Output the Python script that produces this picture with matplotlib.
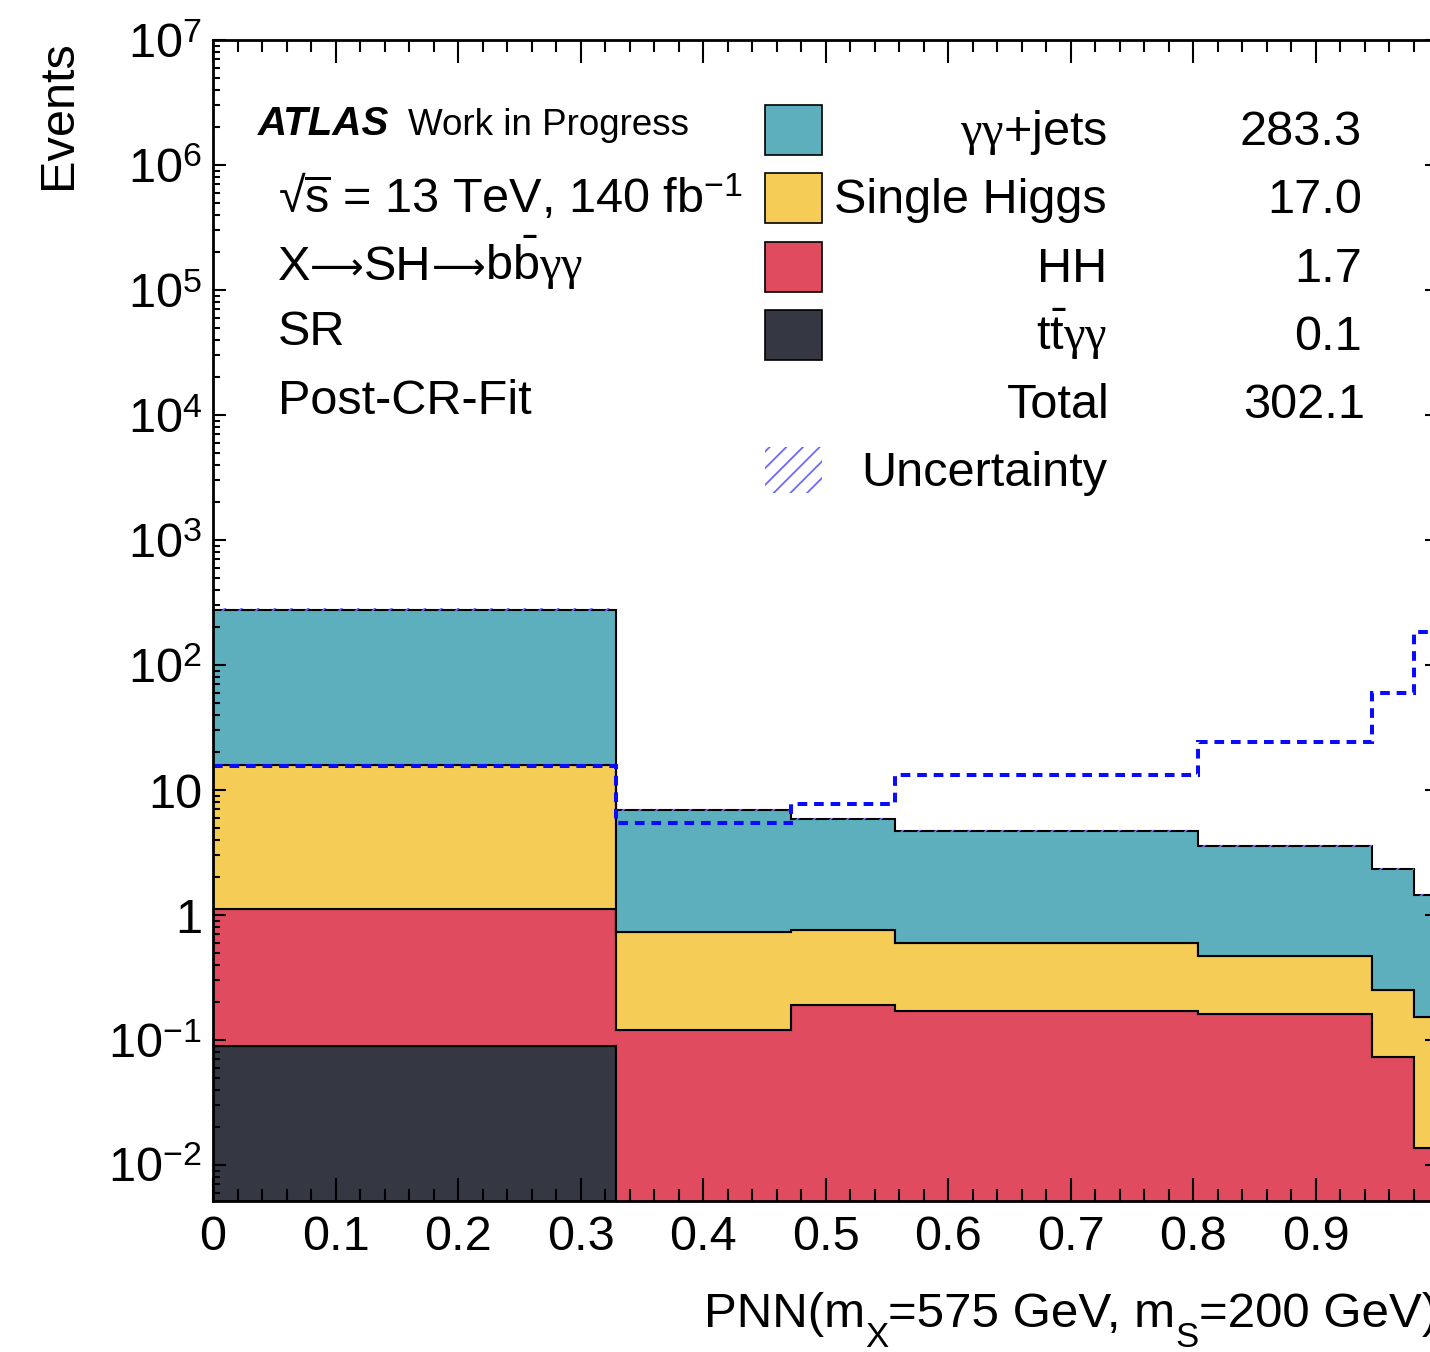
import numpy as np
import matplotlib
matplotlib.use("Agg")
import matplotlib.pyplot as plt
from matplotlib.patches import Rectangle
from matplotlib.ticker import MultipleLocator, LogLocator, FuncFormatter, NullFormatter

plt.rcParams["font.family"] = ["Liberation Sans", "DejaVu Sans"]
plt.rcParams["mathtext.fontset"] = "custom"
plt.rcParams["mathtext.rm"] = "Liberation Sans"
plt.rcParams["mathtext.it"] = "Liberation Serif"
plt.rcParams["mathtext.bf"] = "Liberation Sans:bold"
plt.rcParams["hatch.linewidth"] = 1.3

# binning of the PNN score and per-bin yields
bin_edges = [0.0, 0.329, 0.472, 0.557, 0.804, 0.946, 0.980, 1.0]
yy_jets = [261.4, 6.19, 5.10, 4.10, 3.09, 2.08, 1.29]
single_higgs = [14.73, 0.61, 0.565, 0.426, 0.309, 0.178, 0.139]
hh = [1.03, 0.12, 0.19, 0.17, 0.16, 0.073, 0.0137]
ttyy = [0.09, 0.0, 0.0, 0.0, 0.0, 0.0, 0.0]
signal = [15.6, 5.45, 7.73, 13.2, 24.2, 59.7, 184.0]
rel_unc = 0.025

proc_labels = [r"$\gamma\gamma$+jets", "Single Higgs", "HH", r"t$\bar{\mathrm{t}}\gamma\gamma$"]
proc_yields = [283.3, 17.0, 1.7, 0.1]
total_yield = 302.1
proc_colors = ["#5dafbe", "#f5cd56", "#e04b5f", "#353743"]

x_ticks = [0.0, 0.1, 0.2, 0.3, 0.4, 0.5, 0.6, 0.7, 0.8, 0.9]
x_tick_labels = ["0", "0.1", "0.2", "0.3", "0.4", "0.5", "0.6", "0.7", "0.8", "0.9"]

W, H = 1430, 1352


def fx(px):
    return px / W


def fy(py):
    return 1 - py / H


fig = plt.figure(figsize=(W / 100, H / 100), dpi=100)
ax = fig.add_axes([fx(213), fy(1201), 1225 / W, 1161 / H])
ax.set_yscale("log")
renderer = fig.canvas.get_renderer()


def text_run(x_px, base_px, parts, align="left"):
    """Write text pieces one after another; each part is (text, drop_px, size, family)."""
    widths = []
    for s, drop, size, fam in parts:
        t = fig.text(0, 0, s, fontsize=size, family=fam)
        widths.append(t.get_window_extent(renderer).width)
        t.remove()
    if align == "right":
        x_px -= sum(widths)
    for (s, drop, size, fam), w in zip(parts, widths):
        fig.text(fx(x_px), fy(base_px + drop), s, fontsize=size, family=fam, va="baseline")
        x_px += w


# stacked backgrounds, bottom layer first
stack = [(ttyy, proc_colors[3]), (hh, proc_colors[2]),
         (single_higgs, proc_colors[1]), (yy_jets, proc_colors[0])]
bottom = np.zeros(len(yy_jets))
for vals, col in stack:
    top = bottom + np.asarray(vals)
    ax.stairs(top, bin_edges, baseline=bottom, fill=True, facecolor=col,
              edgecolor="black", linewidth=1.5)
    bottom = top
total = bottom

ax.stairs(total * (1 + rel_unc), bin_edges, baseline=total * (1 - rel_unc), fill=True,
          facecolor="none", edgecolor="#6a6aff", hatch="//", linewidth=0)
ax.stairs(signal, bin_edges, baseline=None, color="#0a0aff", linewidth=2.9,
          linestyle=(0, (2.4, 1.7)))

ax.set_xlim(0, 1)
ax.set_ylim(10 ** -2.288, 1e7)

ax.set_xticks(x_ticks)
ax.set_xticklabels(x_tick_labels)
ax.xaxis.set_minor_locator(MultipleLocator(0.02))
ax.yaxis.set_major_locator(LogLocator(base=10, numticks=20))
ax.yaxis.set_minor_locator(LogLocator(base=10, subs=np.arange(2, 10), numticks=200))
ax.yaxis.set_minor_formatter(NullFormatter())


def ylab(v, pos):
    n = int(round(np.log10(v)))
    if n == 0:
        return "1"
    if n == 1:
        return "10"
    return r"$10^{%d}$" % n


ax.yaxis.set_major_formatter(FuncFormatter(ylab))

ax.tick_params(which="both", direction="in", top=True, right=True, width=1.5)
ax.tick_params(axis="x", which="major", length=16.5, pad=10, labelsize=35)
ax.tick_params(axis="x", which="minor", length=8.6)
ax.tick_params(axis="y", which="major", length=9.5, pad=8, labelsize=35)
ax.tick_params(axis="y", which="minor", length=5)
for sp in ax.spines.values():
    sp.set_linewidth(2)

# x-axis title with low-sitting subscripts, right-aligned at the axis end
sans = ["Liberation Sans", "DejaVu Sans"]
text_run(1438, 1327, [("PNN(m", 0, 35.5, sans), ("X", 20, 25, sans),
                      ("=575 GeV, m", 0, 35.5, sans), ("S", 20, 25, sans),
                      ("=200 GeV)", 0, 35.5, sans)], align="right")

fig.text(fx(81), fy(40), "Events", rotation=90, ha="right", va="top", fontsize=35)

# ATLAS label block
fig.text(fx(258), fy(135), "ATLAS", fontsize=29, fontweight="bold", style="italic",
         va="baseline")
fig.text(fx(408), fy(135), "Work in Progress", fontsize=26.5, va="baseline")
fig.text(fx(278), fy(212), r"√$\overline{\mathrm{s}}$ = 13 TeV, 140 fb$^{-1}$",
         fontsize=35, va="baseline")
text_run(278, 280, [("X", 0, 35, sans), ("⟶", -1, 27, ["DejaVu Sans"]),
                    ("SH", 0, 35, sans), ("⟶", -1, 27, ["DejaVu Sans"]),
                    (r"b$\bar{\mathrm{b}}\gamma\gamma$", 0, 35, sans)])
fig.text(fx(278), fy(345), "SR", fontsize=35, va="baseline")
fig.text(fx(278), fy(414), "Post-CR-Fit", fontsize=35, va="baseline")

# legend with yields
row_base = [145, 213, 282, 350]
for lab, val, col, base in zip(proc_labels, proc_yields, proc_colors, row_base):
    fig.add_artist(Rectangle((fx(765), fy(base + 10)), 57 / W, 50 / H,
                             transform=fig.transFigure, facecolor=col,
                             edgecolor="black", linewidth=1.2))
    fig.text(fx(1107), fy(base), lab, fontsize=35, ha="right", va="baseline")
    fig.text(fx(1362), fy(base), "%.1f" % val, fontsize=35, ha="right", va="baseline")
fig.text(fx(1110), fy(418), "Total", fontsize=35, ha="right", va="baseline")
fig.text(fx(1365), fy(418), "%.1f" % total_yield, fontsize=35, ha="right", va="baseline")
fig.add_artist(Rectangle((fx(765), fy(493)), 57 / W, 46 / H, transform=fig.transFigure,
                         facecolor="none", edgecolor="#6a6aff", hatch="//", linewidth=0))
fig.text(fx(1107), fy(486), "Uncertainty", fontsize=35, ha="right", va="baseline")

fig.savefig("out.png", dpi=100)
